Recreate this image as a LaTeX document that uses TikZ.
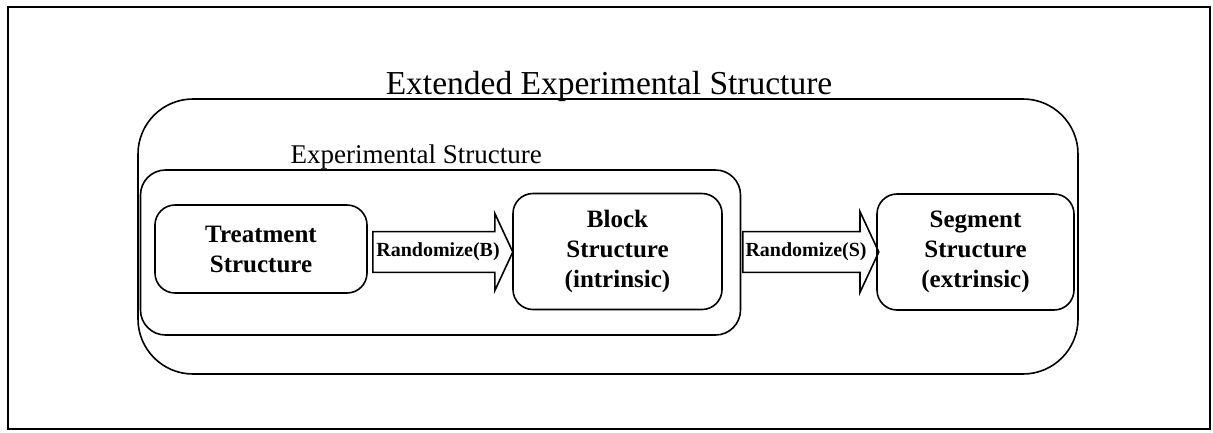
\documentclass[tikz,border=0pt]{standalone}
\usepackage{fontspec}
\setmainfont{Liberation Serif}
\usetikzlibrary{shapes.arrows}

\tikzset{
  container/.style={draw,line width=1.6pt},
  structbox/.style={draw,line width=1.6pt,rounded corners=20pt,align=center,
    font=\fontsize{25}{30}\selectfont\bfseries},
  randarrow/.style={draw,line width=1.6pt,single arrow,single arrow head extend=18pt,
    single arrow tip angle=130,minimum width=73pt,inner xsep=1pt,inner ysep=10.5pt,
    font=\fontsize{20}{22}\selectfont\bfseries},
}

\begin{document}
\begin{tikzpicture}[x=1pt,y=-1pt]
  \useasboundingbox (0,0) rectangle (1213,432);
  \draw[line width=1.8pt] (8,7) rectangle (1210,429);

  % outer and inner frames
  \node[container,rounded corners=55pt,minimum width=940pt,minimum height=275pt] (extbox) at (608,236.5) {};
  \node[anchor=base,font=\fontsize{33.5}{36}\selectfont] (exttitle) at (609,94) {Extended Experimental Structure};
  \node[container,rounded corners=25pt,minimum width=600pt,minimum height=165pt] (expbox) at (440.5,252.5) {};
  \node[anchor=base west,font=\fontsize{27}{30}\selectfont] (exptitle) at (287,163) {Experimental Structure};

  % structures
  \node[structbox,minimum width=212pt,minimum height=88pt] (treat) at (261,249) {Treatment\\Structure};
  \node[structbox,minimum width=209pt,minimum height=116pt] (block) at (617.5,251.5) {Block\\Structure\\(intrinsic)};
  \node[structbox,minimum width=197pt,minimum height=116pt] (segment) at (975.5,252) {Segment\\Structure\\(extrinsic)};

  % randomizations
  \node[randarrow,minimum height=140pt,anchor=tail] (randB) at (372,252) {Randomize(B)};
  \node[randarrow,minimum height=136pt,single arrow head extend=20pt,minimum width=77pt,anchor=tail] (randS) at (742,252) {Randomize(S)};
\end{tikzpicture}
\end{document}
